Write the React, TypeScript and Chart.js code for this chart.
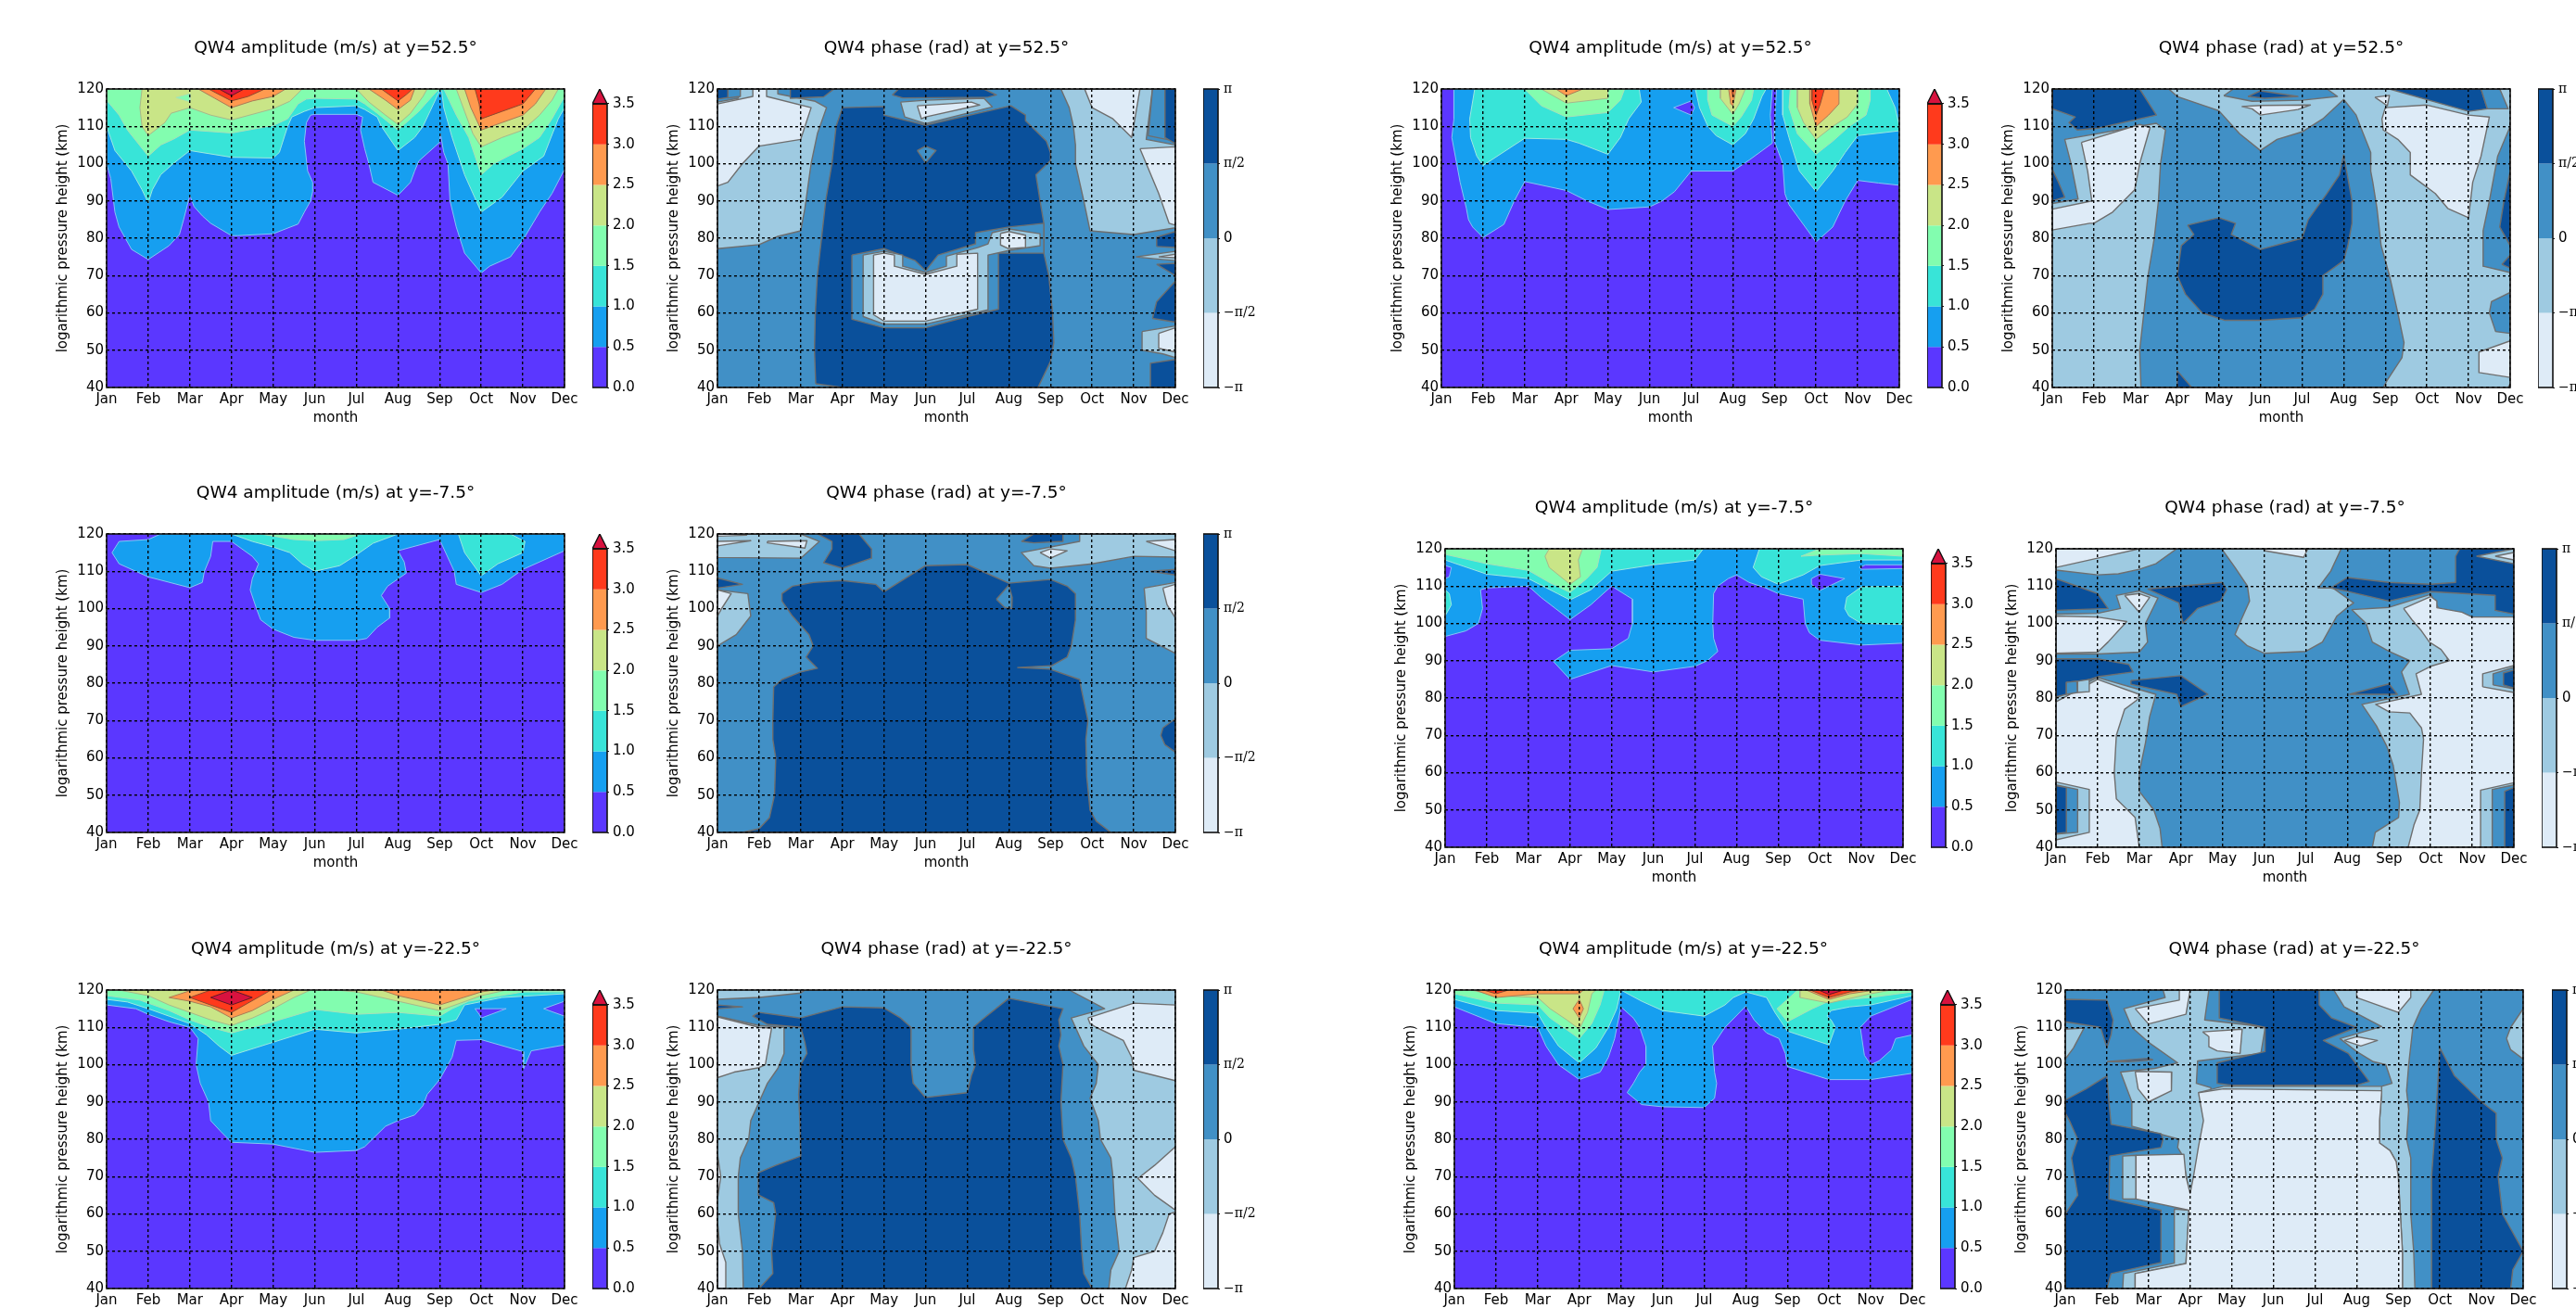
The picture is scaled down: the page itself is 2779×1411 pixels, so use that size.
import React, { useEffect, useRef } from "react";
import { Chart, registerables } from "chart.js";

Chart.register(...registerables);

type Region = [number, number[]];

const months = ["Jan", "Feb", "Mar", "Apr", "May", "Jun", "Jul", "Aug", "Sep", "Oct", "Nov", "Dec"];
const heightTicks = [40, 50, 60, 70, 80, 90, 100, 110, 120];
const ampLevels = [0, 0.5, 1, 1.5, 2, 2.5, 3, 3.5];
const ampLabels = ["0.0", "0.5", "1.0", "1.5", "2.0", "2.5", "3.0", "3.5"];
const phaseLevels = [-Math.PI, -Math.PI / 2, 0, Math.PI / 2, Math.PI];
const phaseLabels = ["−π", "−π/2", "0", "π/2", "π"];
const ampColors = ["#5b37ff", "#169ff0", "#38e4d8", "#82fdaf", "#c9e587", "#ff9a4f", "#ff3a1c", "#d8123f"];
const ampEdges = ["#86c0f4", "#86c4f4", "#9ce8e0", "#a8e0b8", "#a8b88c", "#a87c58", "#8a4a30", "#601828"];
const phaseColors = ["#deebf7", "#9ecae1", "#4190c6", "#0a509b"];
const phaseEdge = "#6e6e6e";
const fullBox = [0, 40, 11, 40, 11, 120, 0, 120];

// Each region: [band index, month,km, month,km, ...] where month 0 = Jan
const ampN52A: Region[] = [
  [0, fullBox],
  [1, [0, 120, 0, 100, 0.1, 96, 0.2, 87, 0.3, 83, 0.6, 77, 1, 74.3, 1.5, 78, 1.75, 81, 1.85, 85, 2, 91.5, 2.1, 88.5, 2.3, 86, 2.5, 84, 3, 80.7, 3.15, 80.7, 4, 81.2, 4.6, 83.8, 4.75, 87, 4.9, 90, 4.95, 92.5, 4.95, 95, 4.83, 98, 4.75, 106, 4.8, 111, 4.9, 113, 5, 113.2, 6, 113.2, 6.15, 112.5, 6.1, 109, 6.2, 104, 6.3, 100, 6.4, 95, 7, 91.5, 7.3, 95, 7.4, 98, 7.5, 100.7, 8, 105.7, 8.02, 108, 8.1, 103, 8.2, 100, 8.25, 90, 8.4, 83, 8.6, 76, 9, 70.7, 9.2, 72.5, 9.7, 75, 10, 79.5, 10.4, 87, 10.7, 92, 11, 98.5, 11, 120]],
  [2, [0, 120, 0, 110, 0.2, 103.5, 0.6, 98, 0.85, 93, 1, 89.5, 1.1, 93, 1.3, 97, 1.6, 100, 2, 103.5, 3, 101.7, 4, 101.5, 4.15, 103, 4.35, 110, 4.45, 112.5, 4.75, 114, 5, 115, 6, 115.5, 6.2, 114.5, 6.5, 112.5, 6.6, 110, 7, 103.5, 7.4, 107, 7.6, 110, 8, 119.5, 8.05, 119.5, 8.1, 115, 8.3, 107, 8.6, 97, 9, 87, 9.5, 91, 10, 98, 10.5, 102, 10.85, 112, 11, 115, 11, 120]],
  [3, [0, 120, 0, 117, 0.3, 113, 0.5, 109, 1, 102, 1.3, 105, 1.6, 106.5, 2, 109, 3, 108.2, 4, 110.2, 4.35, 112, 4.6, 116, 4.8, 117.3, 5, 117.5, 6, 117.3, 6.2, 116, 6.5, 113.5, 7, 109, 7.3, 112, 7.5, 114, 7.9, 119, 8, 120, 8.1, 120, 8.4, 113, 8.7, 107, 9, 97, 9.3, 100, 10, 104, 10.4, 107, 10.7, 112, 11, 118, 11, 120]],
  [4, [0.85, 120, 0.8, 115, 0.85, 110, 1, 107.5, 1.4, 111, 1.55, 113.5, 2, 115, 2.5, 113, 3, 111.7, 4, 114.7, 4.4, 116.7, 4.7, 120]],
  [3, [1.67, 117.7, 2, 118.7, 2, 116.6]],
  [4, [6, 120, 6.3, 116.5, 6.7, 113, 7, 110.5, 7.3, 113.5, 7.6, 118, 7.7, 120]],
  [4, [8.4, 120, 8.6, 114, 8.8, 108, 9, 104.5, 9.5, 107, 10, 109, 10.4, 113, 10.7, 117, 10.85, 120]],
  [5, [8.6, 120, 8.75, 115, 9, 109, 9.5, 111, 10, 113, 10.3, 116, 10.55, 120]],
  [6, [8.85, 120, 8.95, 116, 9, 112, 9.5, 114, 10, 116, 10.15, 118, 10.3, 120]],
  [5, [2.2, 120, 2.6, 117.5, 3, 115, 3.5, 116.8, 4, 118, 4.3, 120]],
  [6, [2.45, 120, 3, 116.8, 3.4, 118, 3.8, 120]],
  [7, [2.7, 120, 3, 118.2, 3.3, 120]],
  [5, [6.3, 120, 6.7, 117, 7, 114.5, 7.3, 117, 7.4, 120]],
  [6, [6.6, 120, 7, 116.8, 7.2, 118.5, 7.35, 120]],
];

const phaseN52A: Region[] = [
  [2, fullBox],
  [3, [2.36, 41, 3, 40, 7.7, 40, 8, 47, 8.08, 52, 8.05, 60, 7.96, 70, 7.84, 76, 7.84, 84, 7.75, 90, 7.65, 97, 8, 100.8, 8, 103, 7.9, 106, 7.4, 111.5, 7.4, 113, 7.05, 115.5, 5, 110.3, 4, 113, 4, 115.3, 3, 115, 2.85, 110, 2.75, 100, 2.6, 90, 2.5, 80, 2.4, 70, 2.35, 60, 2.33, 50]],
  [2, [3.23, 75.5, 4, 77.2, 4.75, 74, 5, 71.3, 5.3, 75.5, 6.2, 78.5, 6.2, 81.5, 7, 83, 7.84, 84, 7.84, 76, 6.75, 76, 6.75, 61, 6, 59, 5, 56, 4, 56, 3.23, 58.3]],
  [1, [3.5, 75.5, 4, 76.5, 4.45, 75.5, 4.45, 72.5, 5, 70.8, 5.5, 72.5, 5.5, 75.2, 6.25, 77.5, 6.5, 78.5, 6.6, 81.5, 7, 82.5, 7.75, 81.2, 7.75, 78, 7, 76.7, 6.5, 75.5, 6.5, 60.8, 5, 57, 4, 57, 3.5, 59]],
  [0, [3.75, 75.5, 4, 76, 4.25, 75.5, 4.25, 72.5, 5, 70.3, 5.75, 72.5, 5.75, 75.7, 6.25, 76, 6.25, 61, 5, 57.8, 4, 57.8, 3.75, 59.5]],
  [0, [6.8, 81.3, 7, 81.8, 7.4, 80.8, 7.4, 77.5, 7, 77.2, 6.8, 78.2]],
  [2, [4.8, 103.5, 5, 104.7, 5.25, 103.5, 5, 100.2]],
  [1, [4.4, 116.5, 5, 117, 6.4, 117.5, 6.6, 115.2, 5, 110.7, 4.5, 112.5]],
  [0, [4.8, 115.5, 5.5, 116, 6.1, 116.5, 6.3, 115.7, 5, 112.5, 4.9, 112]],
  [3, [4.2, 118.4, 4.45, 117.6, 6.5, 117.8, 6.7, 118.4, 6.4, 120, 4.35, 120]],
  [1, [0, 77.2, 1, 78.3, 1.45, 80.5, 2, 82, 2.1, 88, 2.25, 100, 2.4, 108, 2.62, 115, 2.35, 116.7, 1.45, 118.7, 1.45, 120, 0.55, 120, 0.5, 117.5, 0, 116.5]],
  [0, [0, 116, 0.85, 118, 0.85, 120, 1.18, 120, 1.18, 118, 2.25, 115, 2, 106.5, 1, 104.7, 0.6, 100, 0.25, 95, 0, 94]],
  [2, [0.25, 120, 0.55, 120, 0.55, 118, 0.25, 117.6]],
  [3, [0, 120, 0.25, 120, 0.25, 117.7, 0, 117.3]],
  [3, [1.75, 120, 2.8, 120, 2.55, 117.9, 1.75, 117.5]],
  [1, [8.25, 120, 8.45, 115, 8.55, 110, 8.6, 105, 8.6, 100, 8.7, 95, 8.8, 90, 8.95, 82, 10, 81, 11, 82.8, 11, 105, 10.3, 106.5, 10.45, 120]],
  [0, [8.82, 120, 9, 115, 9.5, 112, 9.95, 107, 10.15, 120]],
  [2, [10.45, 120, 10.75, 120, 10.75, 107.5, 11, 106, 10.35, 107.5]],
  [3, [10.75, 120, 11, 120, 11, 105.3, 10.75, 107]],
  [0, [10.15, 104, 11, 104.5, 11, 83.5, 10.85, 84, 10.6, 92, 10.3, 100]],
  [3, [10.4, 40, 10.4, 46.5, 11, 47.5, 11, 40]],
  [1, [10.2, 55, 11, 56.5, 11, 48, 10.7, 49, 10.2, 50]],
  [0, [10.6, 54.5, 11, 56, 11, 49.5, 10.6, 50.5]],
  [3, [10.45, 58.5, 10.55, 63, 11, 68.5, 11, 57.5]],
  [3, [10.55, 73, 11, 73.3, 11, 70]],
  [1, [10.05, 75, 11, 76.5, 11, 74, 10.5, 74.5]],
  [0, [10.6, 75, 11, 75.7, 11, 74.8]],
  [3, [10.55, 77.8, 10.55, 80.3, 11, 81.8, 11, 77.5]],
];

const ampN52B: Region[] = [
  [0, fullBox],
  [1, [0.3, 120, 0.3, 112, 0.25, 107, 0.45, 95, 0.6, 88, 0.65, 85, 0.75, 83, 1, 80.2, 1.5, 83.7, 1.75, 90, 2, 95.2, 3, 92.8, 3.5, 90, 4, 87.7, 5, 88.4, 5.3, 90, 5.6, 92.5, 6, 98, 7, 98, 7.4, 101, 7.95, 105.5, 7.9, 113, 7.95, 120, 8.05, 120, 8, 110, 8, 106, 8.2, 100, 8.25, 92, 8.35, 89, 9, 79, 9.4, 83, 9.7, 90, 10, 95.5, 10.5, 94.8, 11, 94.2, 11, 120]],
  [0, [5.58, 115, 6, 116.8, 6.08, 115, 6, 113]],
  [2, [0.8, 120, 0.68, 112, 0.7, 107, 0.85, 102, 1, 99.5, 2, 106.8, 3, 106.5, 3.3, 105.5, 4, 102.5, 4.3, 107, 4.5, 112, 4.8, 116.5, 4.75, 120]],
  [2, [6.1, 120, 6.2, 115, 6.4, 110, 6.6, 107.5, 7, 105, 7.3, 108, 7.5, 112, 7.7, 118, 7.8, 120]],
  [2, [8.2, 120, 8.2, 113, 8.35, 107, 8.6, 98, 9, 92.5, 9.4, 98, 9.7, 103, 10, 107.5, 11, 108.8, 11, 110, 10.9, 115, 10.7, 120]],
  [3, [2, 120, 2.4, 115.5, 3, 112.5, 4, 113.7, 4.3, 117, 4.4, 120]],
  [3, [6.4, 120, 6.4, 117, 6.5, 113, 7, 110, 7.2, 112.5, 7.45, 117, 7.5, 120]],
  [3, [8.38, 120, 8.35, 115, 8.55, 108, 9, 102.5, 9.4, 106, 9.8, 110, 10.2, 113, 10.3, 117, 10.3, 120]],
  [4, [8.55, 120, 8.55, 115, 8.7, 111, 9, 106.5, 9.4, 110, 9.75, 112.5, 10, 116, 10, 120]],
  [5, [8.85, 120, 8.85, 116, 9, 110, 9.3, 113, 9.55, 116, 9.55, 120]],
  [6, [8.9, 120, 8.9, 117, 9, 113, 9.1, 116, 9.2, 120]],
  [4, [2.4, 120, 3, 116.2, 4, 117.5, 4, 120]],
  [5, [2.75, 120, 3, 118.2, 3.4, 120]],
  [4, [6.7, 120, 6.7, 117.5, 7, 113.2, 7.15, 116, 7.3, 120]],
  [5, [6.9, 120, 6.95, 116, 7, 115.5, 7.08, 120]],
  [6, [6.97, 120, 7, 118, 7.03, 120]],
];

const phaseN52B: Region[] = [
  [1, fullBox],
  [2, [0, 120, 2.8, 120, 3, 118, 4, 114.2, 4.5, 108, 5, 103.5, 5.4, 106.5, 6, 108.5, 6.5, 112, 7, 117.2, 7.3, 113, 7.4, 110, 7.65, 103, 7.65, 98, 7.7, 95, 7.8, 88, 7.9, 78, 8.1, 70, 8.3, 60, 8.45, 52, 8.4, 48, 8.05, 42, 7.95, 40, 2.13, 40, 2.1, 50, 2.15, 55, 2.3, 70, 2.45, 80, 2.55, 90, 2.6, 100, 2.72, 109, 2.5, 110.8, 0.3, 106.5, 0.45, 100, 0.62, 90.5, 0, 89.3]],
  [3, [0, 120, 2.1, 120, 2.5, 113, 1.1, 109.5, 0.6, 109, 0.4, 111, 0.55, 112.5, 0, 114.7]],
  [3, [0, 98.5, 0.15, 95, 0.3, 91, 0, 90]],
  [0, [0.7, 105.7, 2.1, 110.5, 2.35, 109.7, 2.1, 100, 1.98, 93, 1.45, 87, 1, 84, 0.9, 84, 0, 82.2, 0, 87.8, 0.95, 90, 0.85, 98]],
  [2, [4.12, 118.2, 4.35, 120, 6.6, 120, 6.85, 118, 6, 117, 4.8, 116.7]],
  [3, [4.7, 118, 5, 119.5, 5.9, 118, 5.1, 117.5]],
  [0, [4.55, 115.3, 5, 115.6, 6.2, 115.7, 5.9, 114.5, 5, 113, 4.8, 114.7]],
  [3, [3.25, 83.5, 4, 85.5, 4.4, 84, 4.3, 81, 5, 77, 6, 80, 6.15, 85, 6.6, 92, 6.9, 97, 7, 102.3, 7.2, 90, 7.2, 84, 7.1, 78, 7, 74, 6.5, 70, 6.5, 65, 6.3, 61, 6, 58.7, 5, 58, 4.15, 58, 3.6, 60, 3.2, 65, 3, 70, 3.1, 78, 3.4, 81]],
  [3, [3, 44.5, 3.35, 40, 3, 40]],
  [0, [7.75, 117.8, 8.1, 118.3, 8.05, 115.5]],
  [3, [8.05, 120, 10.3, 120, 10.45, 114.7, 10, 114, 8.1, 120]],
  [2, [10.3, 120, 10.75, 120, 10.95, 114.7, 10.45, 114.7]],
  [0, [8, 115, 9, 115.7, 10, 113, 10.5, 112.5, 10.3, 102, 10.1, 95, 10, 85.5, 9.5, 88, 9.2, 92, 8.9, 94.5, 8.6, 97, 8.6, 103, 8.3, 106.5, 7.95, 109, 7.92, 112]],
  [2, [11, 110, 10.7, 102, 10.5, 90, 10.35, 82, 10.35, 72.5, 11, 70.8]],
  [3, [11, 98, 10.85, 90, 10.75, 83, 11, 78]],
  [3, [10.8, 73, 11, 75.5, 11, 72]],
  [2, [11, 65.5, 10.55, 63, 10.5, 60, 10.65, 55, 11, 54.5]],
  [0, [11, 52.5, 10.25, 49.5, 10.25, 44, 11, 42.7]],
  [2, [10.95, 40, 11, 40, 11, 41]],
];

const ampS7A: Region[] = [
  [0, fullBox],
  [1, [0.13, 115, 0.3, 118, 1, 118.5, 1.3, 120, 11, 120, 11, 115.5, 10, 110.5, 9.5, 106.5, 9, 104.3, 8.4, 106.5, 8.35, 110, 8, 118.5, 7, 115.5, 7.15, 112.5, 7.2, 109.5, 6.75, 106, 6.6, 103.5, 6.8, 100, 6.8, 97.5, 6.5, 95, 6.25, 92, 6, 91.5, 5, 91.5, 4.5, 92.3, 4, 94.5, 3.7, 97, 3.6, 100, 3.45, 105, 3.5, 108, 3.65, 112, 3.5, 114, 3, 118, 2.55, 118, 2.5, 114, 2.35, 110, 2.3, 107, 2, 105.6, 1, 108.5, 0.3, 112]],
  [2, [3, 120, 3.5, 118, 4, 116.5, 4.4, 115, 4.7, 112, 5, 110, 5.6, 111.5, 5.95, 114, 6.4, 117.5, 7, 120]],
  [2, [8.45, 120, 8.6, 115, 9, 108.8, 9.4, 112, 10, 115, 10.05, 118, 9.7, 120]],
  [3, [3.7, 120, 4.5, 118.5, 5, 118.2, 5.7, 118.5, 6.1, 120]],
];

const phaseS7A: Region[] = [
  [2, fullBox],
  [3, [0.6, 40, 1, 41, 1.25, 44, 1.37, 50, 1.4, 60, 1.33, 65, 1.33, 70, 1.35, 79, 1.55, 81, 2, 83, 2.4, 84, 2.13, 87, 2.3, 90, 2.2, 93, 1.8, 98, 1.55, 102, 1.55, 104, 1.8, 106, 2.3, 107, 3, 107.5, 3.8, 106.5, 4, 104.5, 5, 111.5, 6, 111.8, 7, 106.8, 8, 107.8, 8.4, 106, 8.6, 104, 8.6, 97, 8.5, 90, 8.4, 87, 8, 84.5, 8, 83.7, 8.7, 81, 8.75, 78, 8.9, 70, 8.85, 65, 8.87, 55, 8.95, 46, 9.1, 43, 9.45, 40]],
  [2, [7.2, 84.2, 8, 84.7, 8, 83.8]],
  [2, [6.7, 102.5, 7, 106.3, 7.08, 103, 7.07, 100, 6.9, 100.3]],
  [3, [2.4, 120, 3.4, 120, 3.7, 116, 3.7, 113.5, 3, 110.8, 2.55, 112.3, 2.75, 116, 2.75, 118]],
  [1, [0, 113.7, 2, 113.5, 2.45, 118, 2, 120, 0, 120]],
  [0, [0, 118, 0.8, 118.2, 0, 116.8]],
  [0, [1.2, 118, 2.15, 118.2, 2.1, 116.2, 1.2, 117.6]],
  [0, [0, 120, 0.7, 119.7, 0, 119.4]],
  [3, [0, 108.2, 0.6, 106.5, 0, 105.5]],
  [1, [0, 90, 0.45, 93, 0.8, 98, 0.73, 104, 0, 105]],
  [0, [0, 98, 0.1, 100, 0.33, 104, 0, 105]],
  [3, [7.3, 118, 7.6, 120, 8.3, 120, 8.3, 118, 7.6, 117.6]],
  [1, [8.7, 120, 11, 120, 11, 113.8, 10, 114, 9, 112, 8, 110.8, 7.6, 111.5, 7.3, 115, 8.7, 118]],
  [0, [7.75, 115, 8, 116, 8.4, 115.5, 8, 113.5]],
  [0, [10.3, 118, 11, 118.5, 11, 115.5]],
  [3, [10.4, 110, 11, 110.5, 11, 109]],
  [1, [10.25, 105.5, 11, 107, 11, 88, 10.3, 92, 10.3, 99]],
  [0, [10.7, 105.5, 11, 106.5, 11, 97.5, 10.8, 101]],
  [3, [11, 70.5, 10.7, 68, 10.65, 66, 10.75, 63.5, 11, 61.5]],
];

const ampS7B: Region[] = [
  [0, fullBox],
  [1, [0, 96.5, 0.5, 98, 0.8, 100, 0.9, 104, 0.85, 109, 1, 109.5, 2, 110, 2.3, 107, 3, 101, 3.5, 105, 4, 110, 4.5, 106.5, 4.5, 100, 4.4, 96, 4, 93.2, 3, 92.8, 2.6, 89.8, 3, 85, 4, 88.7, 5, 87, 6, 88.5, 6.3, 90, 6.55, 92.5, 6.45, 96, 6.43, 100, 6.45, 108, 6.55, 110, 6.8, 112, 7, 113, 7.3, 111, 7.7, 109.5, 8, 108, 8.6, 106.5, 8.65, 100, 8.75, 97.5, 9, 95.5, 10, 94.2, 11, 94.7, 11, 120, 0, 120]],
  [0, [0, 115.5, 0.15, 115, 0.1, 112.5, 0, 112]],
  [0, [8.8, 112, 9, 113.2, 9.6, 112, 9, 108.8, 8.8, 110.5]],
  [0, [9.95, 115, 10.1, 115.7, 11, 115.7, 11, 114.7, 10, 114.5]],
  [2, [0, 117, 1, 113.2, 2, 112, 2.7, 108, 3, 106.3, 3.5, 109, 4, 114, 5, 115.7, 6, 117, 6.2, 120, 0, 120]],
  [2, [7.55, 120, 7.4, 115, 7.6, 112.5, 8, 110.5, 8.6, 113, 9, 115.5, 10, 117, 11, 117, 11, 120]],
  [2, [0, 102, 0.15, 105, 0.1, 108, 0, 109]],
  [2, [9.6, 104, 9.65, 107, 10, 109.8, 11, 110, 11, 99.7, 10, 100, 9.7, 102]],
  [3, [0, 120, 0, 118.5, 1, 116, 2, 114.2, 2.5, 111, 3, 108.3, 3.4, 112, 3.65, 115, 3.75, 120]],
  [3, [8.55, 118, 9, 120, 11, 120, 11, 118, 10, 118.7, 9, 118.3]],
  [4, [2.4, 118, 2.5, 115, 3, 110.5, 3.25, 112.5, 3.2, 117, 3.3, 120, 2.5, 120]],
];

const phaseS7B: Region[] = [
  [2, fullBox],
  [1, [0, 120, 2.9, 120, 2.4, 116, 2, 114.5, 1.5, 113.3, 1, 113, 0, 114.3]],
  [0, [0, 115, 1, 117.5, 2, 120, 0, 120]],
  [1, [3.98, 120, 4.3, 115, 4.6, 110, 4.65, 106, 4.45, 101, 4.3, 97, 4.6, 94, 5, 92, 6, 92.5, 6.4, 95, 6.75, 102, 7, 104.3, 7.15, 105.5, 6.65, 109.5, 6.3, 109.5, 6.6, 114, 6.85, 120]],
  [0, [5, 120, 5, 119.5, 5.95, 117.7, 6.05, 120]],
  [1, [0, 102.5, 1, 102.7, 1.55, 104, 1.45, 107.5, 2, 108.7, 2.45, 106.8, 2.15, 100, 2.2, 95, 2, 92.3, 1, 91.8, 0, 91.8]],
  [0, [0, 102, 1, 101.7, 1.7, 100.5, 1.25, 95, 1, 92.3, 0, 92]],
  [0, [1.65, 107.5, 2, 108, 2.25, 107, 2, 103]],
  [3, [0, 112, 0.5, 110, 1, 108, 1.25, 104, 0, 103.5]],
  [3, [2.2, 109.2, 4, 111, 4.1, 109, 3.95, 106, 3.4, 104, 3.05, 100, 2.95, 105.5]],
  [1, [7.1, 103.7, 8, 104.3, 9, 107.8, 9.4, 100, 9.4, 40, 7.6, 40, 7.67, 44, 7.95, 46, 8.23, 48, 8.25, 52, 8.1, 62, 7.95, 67, 7.7, 72.5, 7.35, 78.3, 8.49, 81, 8.3, 87, 8.5, 90, 8, 92.5, 7.6, 95, 7.45, 100]],
  [0, [8.35, 104, 9, 107.2, 9.15, 106, 9.15, 104.2, 9.75, 103, 10, 101.7, 11, 101.7, 11, 40, 8.46, 40, 8.6, 46, 8.74, 50, 8.78, 60, 8.83, 69, 8.78, 72, 8.5, 76, 8, 76.3, 7.68, 78.3, 8.78, 81, 8.65, 86.5, 9, 88.5, 9.45, 90, 9.25, 93, 8.97, 95, 8.78, 98, 8.55, 101]],
  [3, [6.6, 109.5, 7, 112.3, 8, 111, 9, 110.5, 9.6, 111, 9.6, 118, 9.7, 120, 11, 120, 11, 102.5, 10.55, 103.5, 10.55, 107.5, 9, 108.5, 8, 106, 7, 108.6]],
  [1, [10.1, 118, 11, 120, 11, 116]],
  [0, [10.55, 118, 11, 119, 11, 117]],
  [1, [10.25, 83, 10.25, 86.5, 11, 88.7, 11, 81.5]],
  [2, [10.5, 83.5, 10.5, 86.5, 11, 88.2, 11, 82.5]],
  [3, [10.75, 83.5, 10.75, 86.7, 11, 87.5, 11, 82.7]],
  [1, [10.2, 40, 10.2, 55.3, 11, 57.3, 11, 40]],
  [2, [10.48, 40, 10.48, 55.5, 11, 56.7, 11, 40]],
  [3, [10.78, 40, 10.78, 55, 11, 56, 11, 40]],
  [1, [0, 80, 1, 85.5, 2.4, 81, 2.25, 75, 2.15, 68, 2, 60, 2, 55, 2.35, 50, 2.5, 45, 2.55, 40, 0, 40]],
  [0, [0, 79, 1, 85, 2, 81, 1.95, 79.5, 1.65, 77, 1.45, 70, 1.4, 60, 1.45, 53, 1.9, 48, 2, 40, 0, 40]],
  [1, [0, 42, 0.8, 44, 0.8, 55.5, 0, 57.5]],
  [2, [0, 43.5, 0.52, 44, 0.52, 55.5, 0, 56.7]],
  [3, [0, 43.7, 0.25, 44, 0.25, 56, 0, 56.5]],
  [3, [0, 90.5, 1, 90.5, 1.75, 89, 1.85, 87, 1, 85.7, 0.75, 84.8, 0.25, 84.2, 0.25, 81, 0, 80.3]],
  [2, [0.25, 81, 0.25, 84.2, 0.5, 84.5, 0.52, 81.5]],
  [1, [0.52, 81.5, 0.52, 84.5, 0.8, 85, 0.8, 81.7]],
  [3, [1.8, 84.7, 3, 86, 3.65, 81, 3, 77.7, 2.9, 81, 1.8, 83.7]],
  [3, [7.05, 81, 8, 83.8, 8.2, 81]],
];

const ampS22A: Region[] = [
  [0, fullBox],
  [1, [0, 116, 0.7, 115, 1, 113.5, 1.5, 111.5, 2, 110, 2.2, 107, 2.15, 100, 2.25, 95, 2.45, 90, 2.5, 85, 2.75, 82, 3, 79.2, 4, 78.7, 5, 76.5, 6, 77, 6.2, 78, 6.7, 83.5, 7, 85, 7.4, 86.5, 7.6, 89, 7.7, 92, 8, 96, 8.3, 102, 8.4, 106.5, 9, 106.7, 10, 103.5, 10.02, 99, 10.2, 103.7, 11, 105.3, 11, 120, 0, 120]],
  [0, [8.85, 115, 9.6, 115, 9, 112.5, 8.95, 113.5]],
  [0, [10.5, 115, 11, 117, 11, 113]],
  [2, [0, 117.5, 0.5, 116.8, 1, 115, 1.5, 113, 2, 111, 2.4, 108, 2.7, 105, 3, 102.5, 4, 106, 5, 109.5, 6, 108.5, 7, 109.5, 8, 110.8, 8.4, 112, 8.6, 116, 9.5, 118, 11, 119, 11, 120, 0, 120]],
  [3, [0, 118.5, 0.8, 117.3, 1.5, 114.5, 2, 112, 2.5, 110, 3, 108.5, 3.5, 110, 4, 111.5, 5, 114.8, 6, 113.5, 7, 114, 8, 113, 8.3, 115, 8.7, 117, 10, 119.5, 11, 119.5, 11, 120, 0, 120]],
  [4, [0.3, 120, 1, 118.5, 1.5, 116, 2, 114, 2.5, 112, 3, 110.5, 3.5, 112.5, 4, 115, 4.5, 118, 4.9, 120]],
  [4, [5.5, 120, 6, 119.5, 7, 117, 8, 114.5, 8.5, 116.5, 9, 118.5, 9.6, 120]],
  [5, [1.5, 118, 2, 119.8, 2.3, 120, 4.5, 120, 4, 117.5, 3.5, 114.5, 3, 112.5, 2.5, 115.5, 2, 117]],
  [5, [6.6, 120, 7, 118.5, 8, 116, 9, 119.5, 9.3, 120]],
  [6, [2, 118, 2.5, 120, 3.95, 120, 3, 114]],
  [7, [2.5, 118, 3, 120, 3.5, 118, 3, 116]],
];

const phaseS22A: Region[] = [
  [1, fullBox],
  [2, [0.62, 40, 0.6, 50, 0.5, 60, 0.5, 70, 0.55, 75, 0.75, 80, 0.8, 85, 1, 90, 1.2, 95, 1.45, 99, 1.6, 103, 1.6, 110, 1, 110.5, 0, 113, 0, 117.5, 1, 118, 2, 119.2, 2.1, 120, 8.45, 120, 9.3, 115, 8.5, 112.5, 8.8, 105, 9.15, 100, 9.1, 95, 8.95, 91, 9.15, 85, 9.2, 80, 9.45, 75, 9.5, 70, 9.55, 60, 9.65, 50, 9.45, 45, 9.4, 40]],
  [3, [1, 40, 1.33, 44, 1.3, 50, 1.4, 60, 1.35, 63, 1, 65, 0.98, 71, 1.4, 73, 2, 75.5, 1.98, 85, 1.95, 92, 2, 100, 2.15, 103, 2.1, 106, 2, 110, 1.2, 110.8, 0.85, 113, 1, 114, 2, 112.5, 3, 115.5, 4, 115.2, 4.4, 112.5, 4.65, 110, 4.65, 100, 4.7, 95, 5, 91.2, 6, 92.5, 6.1, 97, 6.2, 100, 6.15, 104, 6.15, 110, 6.35, 112, 7, 117.8, 8.3, 115, 8.2, 112, 8.25, 108, 8.2, 105, 8.3, 100, 8.25, 90, 8.3, 80, 8.5, 75, 8.6, 70, 8.7, 60, 8.75, 50, 8.8, 44, 9, 40]],
  [3, [0, 116, 0.6, 115.5, 0, 115]],
  [0, [0, 112.8, 1, 110, 1.3, 109.8, 1.15, 100, 1, 99.2, 0.4, 98, 0, 96.5]],
  [0, [8.9, 112.5, 10, 116.5, 11, 116, 11, 95.7, 10, 98.5, 9.95, 102, 9.75, 106.5, 9.1, 110, 8.95, 111]],
  [0, [11, 78, 10.5, 73, 10.1, 69.5, 10.5, 65, 11, 61]],
  [0, [9.8, 40, 9.95, 45, 10, 48.3, 10.5, 50, 10.7, 55, 10.85, 60, 11, 60.5, 11, 40]],
  [0, [0, 40, 0.2, 40, 0.2, 47, 0.05, 52, 0, 58]],
  [0, [0, 76, 0.08, 70, 0, 64]],
];

const ampS22B: Region[] = [
  [0, fullBox],
  [1, [0, 115.5, 1, 111, 2, 110, 2.2, 105, 2.5, 100, 3, 96, 3.5, 98, 3.7, 102, 3.85, 107, 4, 115.5, 4.3, 112.5, 4.45, 110, 4.6, 105, 4.6, 100, 4.45, 98, 4.3, 95, 4.15, 92.5, 4.5, 89.3, 5, 88.7, 6, 88.5, 6.25, 91, 6.3, 95, 6.25, 98, 6.2, 105, 6.5, 110, 7, 115.7, 7.2, 112, 7.5, 108.5, 7.8, 107, 7.95, 103, 8, 99.5, 9, 96, 10, 96, 11, 97.7, 11, 120, 0, 120]],
  [0, [9.85, 102.5, 9.75, 110, 10, 113, 11, 117.5, 11, 108, 10.6, 107, 10.5, 104, 10.2, 101, 10, 100]],
  [2, [0, 117.5, 1, 114.5, 2, 113.8, 2.2, 110, 2.5, 105, 3, 100.5, 3.4, 104.5, 3.7, 110, 3.9, 115, 4, 120, 4.5, 117, 5, 114.5, 6, 113, 6.5, 116, 6.7, 118, 7, 119.5, 7.5, 118, 7.7, 114, 8, 109, 9, 105.3, 9.15, 110, 9.05, 112, 8.95, 113, 9.05, 114.5, 9.5, 115.5, 10, 116, 11, 118.5, 11, 120, 0, 120]],
  [3, [0, 119, 1, 116.5, 2, 116, 2.3, 112.5, 3, 107, 3.3, 111, 3.5, 116, 3.6, 120, 0, 120]],
  [3, [8.25, 120, 7.75, 115, 8, 111.5, 8.6, 115, 9, 117, 10, 118, 11, 119.5, 11, 120]],
  [4, [0.4, 120, 1, 118.5, 2, 118, 2.3, 115, 2.7, 112, 3, 109.5, 3.2, 114, 3.3, 119, 3.4, 120]],
  [4, [8.3, 120, 8.3, 118, 9, 116.5, 10, 119, 10.5, 120]],
  [5, [0.5, 120, 1, 118, 2, 119, 3, 119, 3.1, 120]],
  [5, [2.85, 115, 3, 117.5, 3.1, 115, 3, 112.5]],
  [5, [8.45, 120, 9, 117.5, 9.5, 119, 10.1, 120]],
  [6, [0.7, 120, 1, 119, 1.3, 120]],
  [6, [8.55, 120, 9, 118, 9.5, 119.5, 9.8, 120]],
  [7, [8.75, 120, 9, 118.8, 9.35, 120]],
];

const phaseS22B: Region[] = [
  [2, fullBox],
  [1, [2.35, 120, 2.4, 118, 1.41, 115, 1.6, 110, 2, 106, 2.7, 100.5, 2.15, 99, 1.33, 98, 1.6, 90, 1.6, 83.5, 2.73, 80, 2.7, 77.8, 2.8, 76, 3, 65, 3.5, 65, 3.5, 93.8, 3.15, 95, 3.18, 101, 4.7, 103, 4.8, 109.8, 4.5, 110.5, 3.35, 112, 3.45, 120]],
  [1, [6.45, 120, 6.7, 115.5, 7.6, 110.2, 6.6, 107, 7, 103.5, 7.4, 100.8, 7.7, 100, 7.85, 95, 7.6, 94.2, 7.6, 92.5, 7.55, 85, 7.55, 79, 7.8, 77, 7.95, 74, 8, 70, 8.05, 60, 8.1, 50, 8.1, 40, 8.4, 40, 8.37, 50, 8.3, 60, 8.3, 70, 8.3, 75, 8.2, 80, 8.25, 88, 8.2, 93, 8.25, 100, 8.35, 110, 8.55, 115, 8.85, 120]],
  [1, [1.38, 40, 1.4, 44, 2.62, 46.8, 2.62, 61.3, 2.97, 61, 2.9, 46.7, 1.68, 44, 1.68, 40]],
  [1, [1.38, 64, 1.38, 75.5, 1.7, 75.7, 1.7, 64]],
  [1, [3.2, 92.5, 3.8, 94.2, 7.6, 94.2, 7.6, 92.5]],
  [0, [1.68, 40, 1.68, 44, 2.9, 46.7, 2.97, 61, 1.7, 64, 1.7, 75.7, 2.85, 76, 2.9, 70, 3, 65.5, 3.08, 70, 3.2, 78, 3.32, 85, 3.2, 92.5, 3.8, 93.5, 7.6, 93, 7.6, 92.5, 7.55, 85, 7.55, 79, 7.8, 77, 7.95, 74, 8, 70, 8.05, 60, 8.1, 50, 8.1, 40]],
  [0, [1.68, 98.2, 2.56, 98, 2.55, 93, 2, 90, 1.75, 93.5]],
  [0, [1.68, 115, 2.74, 117.3, 2.74, 120, 3, 120, 2.9, 113.5, 2, 110.9]],
  [0, [3.3, 108.8, 4.25, 109.5, 4.2, 103, 3.65, 103.7, 3.45, 104.8, 3.45, 107.5]],
  [0, [7, 120, 8.3, 120, 8.3, 118, 8, 114, 7, 118]],
  [0, [6.7, 106.5, 7, 107.5, 7.5, 106.5, 7.1, 105]],
  [3, [0, 40, 1, 40, 1.1, 44, 2.3, 47, 2.3, 61, 1.05, 64, 1.07, 75.5, 2.3, 77.8, 2.35, 80, 2.3, 81.5, 1.1, 84, 1.05, 90, 1, 97, 0.5, 93.5, 0, 90.5]],
  [2, [0, 60, 0.3, 65, 0.15, 75, 0.3, 80, 0.1, 85, 0, 87]],
  [3, [3.7, 120, 6.1, 120, 6.1, 116, 6.4, 112.5, 7, 110, 6.2, 106.5, 6.8, 103, 7, 100, 7.3, 95.5, 7, 94.5, 4, 94.5, 3.65, 95, 3.65, 100.5, 4.8, 103.5, 4.8, 110, 3.7, 112.5]],
  [3, [8.8, 40, 8.8, 70, 8.9, 85, 8.95, 95, 9, 104.5, 9.35, 97, 10, 90, 10.35, 87, 10.35, 80, 10.5, 75, 10.4, 70, 10.5, 60, 10.9, 52, 11, 50, 10.75, 45, 10.7, 40]],
  [1, [11, 115, 10.7, 110, 10.6, 107, 10.7, 104, 11, 101.5]],
  [3, [0, 117.5, 1, 117.3, 1.15, 112, 1.1, 108, 1, 104.5, 0.85, 110, 0, 111.5]],
  [1, [0, 109.5, 0.45, 109.8, 0.2, 104.5, 0, 101.5]],
  [3, [1, 100.8, 2, 101.7, 2.1, 101.3, 1.5, 100.8]],
];

const colA = { amp: 115, cbA: 639, phase: 774, cbP: 1298 };
const panels = [
  { title: "QW4 amplitude (m/s) at y=52.5°", kind: "amp", x: colA.amp, y: 96, cb: colA.cbA, data: ampN52A },
  { title: "QW4 phase (rad) at y=52.5°", kind: "phase", x: colA.phase, y: 96, cb: colA.cbP, data: phaseN52A },
  { title: "QW4 amplitude (m/s) at y=52.5°", kind: "amp", x: 1555, y: 96, cb: 2079, data: ampN52B },
  { title: "QW4 phase (rad) at y=52.5°", kind: "phase", x: 2214, y: 96, cb: 2738, data: phaseN52B },
  { title: "QW4 amplitude (m/s) at y=-7.5°", kind: "amp", x: colA.amp, y: 576, cb: colA.cbA, data: ampS7A },
  { title: "QW4 phase (rad) at y=-7.5°", kind: "phase", x: colA.phase, y: 576, cb: colA.cbP, data: phaseS7A },
  { title: "QW4 amplitude (m/s) at y=-7.5°", kind: "amp", x: 1559, y: 592, cb: 2083, data: ampS7B },
  { title: "QW4 phase (rad) at y=-7.5°", kind: "phase", x: 2218, y: 592, cb: 2742, data: phaseS7B },
  { title: "QW4 amplitude (m/s) at y=-22.5°", kind: "amp", x: colA.amp, y: 1068, cb: colA.cbA, data: ampS22A, noXTitle: true },
  { title: "QW4 phase (rad) at y=-22.5°", kind: "phase", x: colA.phase, y: 1068, cb: colA.cbP, data: phaseS22A, noXTitle: true },
  { title: "QW4 amplitude (m/s) at y=-22.5°", kind: "amp", x: 1569, y: 1068, cb: 2093, data: ampS22B, noXTitle: true },
  { title: "QW4 phase (rad) at y=-22.5°", kind: "phase", x: 2228, y: 1068, cb: 2753, data: phaseS22B, noXTitle: true },
];

const PLOT_W = 494;
const PLOT_H = 322;
const PAD_L = 60;
const PAD_R = 60;
const PAD_T = 70;
const PAD_B = 50;
const SANS = "'DejaVu Sans'";

const framePlugin = {
  id: "frame",
  afterDraw(chart: any, _a: any, opts: any) {
    const { left, right, bottom } = chart.chartArea;
    const top = opts.topValue != null ? chart.scales.y.getPixelForValue(opts.topValue) : chart.chartArea.top;
    const c = chart.ctx;
    c.save();
    c.strokeStyle = "#111";
    c.lineWidth = 1.6;
    c.strokeRect(left, top, right - left, bottom - top);
    c.restore();
  },
};

function toPoints(flat: number[]) {
  const pts: { x: number; y: number }[] = [];
  for (let i = 0; i < flat.length; i += 2) pts.push({ x: flat[i], y: flat[i + 1] });
  pts.push({ x: flat[0], y: flat[1] });
  return pts;
}

function regionDatasets(regions: Region[], fills: string[], edges: (b: number) => string, width: number) {
  return regions.map(([band, flat], i) => ({
    data: toPoints(flat),
    showLine: true,
    fill: "shape",
    backgroundColor: fills[band],
    borderColor: i === 0 ? fills[band] : edges(band),
    borderWidth: i === 0 ? 0 : width,
    borderJoinStyle: "round",
    pointRadius: 0,
    tension: 0,
    order: regions.length - i,
  }));
}

function resetPad(s: any) {
  s.paddingLeft = 0;
  s.paddingRight = 0;
  s.paddingTop = 0;
  s.paddingBottom = 0;
}

function Plot({ p }: { p: any }) {
  const ref = useRef<HTMLCanvasElement>(null);
  useEffect(() => {
    const isAmp = p.kind === "amp";
    const chart = new Chart(ref.current!, {
      type: "scatter",
      data: {
        datasets: regionDatasets(p.data, isAmp ? ampColors : phaseColors, isAmp ? (b) => ampEdges[b] : () => phaseEdge, isAmp ? 1 : 1.4) as any,
      },
      plugins: [framePlugin],
      options: {
        animation: false,
        responsive: false,
        devicePixelRatio: 1,
        layout: { padding: { left: 0, right: PAD_R, top: 0, bottom: 0 } },
        events: [],
        plugins: {
          legend: { display: false },
          tooltip: { enabled: false },
          title: {
            display: true,
            text: p.title,
            fullSize: false,
            color: "#000",
            font: { family: SANS, size: 18.5, weight: "normal", lineHeight: 1.2 },
            padding: { top: 15, bottom: 32.8 },
          },
        },
        scales: {
          x: {
            type: "linear",
            min: 0,
            max: 11,
            afterFit: (s: any) => {
              resetPad(s);
              s.height = PAD_B;
            },
            ticks: {
              stepSize: 1,
              autoSkip: false,
              maxRotation: 0,
              color: "#000",
              padding: 4,
              font: { family: SANS, size: 15 },
              callback: (v: any) => months[v],
            },
            grid: { z: 1, color: "#000", lineWidth: 1.4, drawTicks: false },
            border: { display: false, dash: [3, 3] },
            title: {
              display: !p.noXTitle,
              text: "month",
              color: "#000",
              font: { family: SANS, size: 15, lineHeight: 1.2 },
              padding: { top: 0, bottom: 8 },
            },
          },
          y: {
            type: "linear",
            min: 40,
            max: 120,
            afterFit: (s: any) => {
              resetPad(s);
              s.width = PAD_L;
            },
            afterBuildTicks: (s: any) => {
              s.ticks = heightTicks.map((value) => ({ value }));
            },
            ticks: {
              autoSkip: false,
              color: "#000",
              padding: 3,
              font: { family: SANS, size: 15 },
            },
            grid: { z: 1, color: "#000", lineWidth: 1.4, drawTicks: false },
            border: { display: false, dash: [3, 3] },
            title: {
              display: true,
              text: "logarithmic pressure height (km)",
              color: "#000",
              font: { family: SANS, size: 15, lineHeight: 1.2 },
              padding: { top: 4, bottom: 0 },
            },
          },
        },
      } as any,
    });
    return () => chart.destroy();
  }, [p]);
  return (
    <canvas
      ref={ref}
      width={PAD_L + PLOT_W + PAD_R}
      height={PAD_T + PLOT_H + PAD_B}
      style={{ position: "absolute", left: p.x - PAD_L, top: p.y - PAD_T, display: "block" }}
    />
  );
}

const CB_W = 16;
const CB_PAD = 12;
const CB_LABEL_W = 60;

function ColorBar({ p }: { p: any }) {
  const ref = useRef<HTMLCanvasElement>(null);
  useEffect(() => {
    const isAmp = p.kind === "amp";
    const levels = isAmp ? ampLevels : phaseLevels;
    const labels = isAmp ? ampLabels : phaseLabels;
    const fills = isAmp ? ampColors : phaseColors;
    const regions: Region[] = [];
    for (let i = 0; i + 1 < levels.length; i++) {
      regions.push([i, [0, levels[i], 1, levels[i], 1, levels[i + 1], 0, levels[i + 1]]]);
    }
    const top = isAmp ? 3.683 : Math.PI;
    if (isAmp) regions.push([7, [0, 3.5, 1, 3.5, 0.5, top]]);
    const sets = regions.map(([band, flat], i) => ({
      data: toPoints(flat),
      showLine: true,
      fill: "shape",
      backgroundColor: fills[band],
      borderColor: isAmp && i === regions.length - 1 ? "#111" : fills[band],
      borderWidth: isAmp && i === regions.length - 1 ? 1.4 : 0,
      pointRadius: 0,
      tension: 0,
      order: regions.length - i,
    }));
    const chart = new Chart(ref.current!, {
      type: "scatter",
      data: { datasets: sets as any },
      plugins: [framePlugin],
      options: {
        animation: false,
        responsive: false,
        devicePixelRatio: 1,
        events: [],
        layout: { padding: { left: 0, right: 0, top: CB_PAD, bottom: CB_PAD } },
        plugins: {
          legend: { display: false },
          tooltip: { enabled: false },
          title: { display: false },
          frame: { topValue: isAmp ? 3.5 : null },
        },
        scales: {
          x: { type: "linear", min: 0, max: 1, display: false },
          y: {
            type: "linear",
            position: "right",
            min: isAmp ? 0 : -Math.PI,
            max: top,
            afterFit: (s: any) => {
              resetPad(s);
              s.width = CB_LABEL_W;
            },
            afterBuildTicks: (s: any) => {
              s.ticks = levels.map((value) => ({ value }));
            },
            ticks: {
              autoSkip: false,
              color: "#000",
              padding: 4,
              font: (ctx: any) =>
                isAmp || ctx.index === 2
                  ? { family: SANS, size: 15 }
                  : { family: "'DejaVu Serif'", size: 14 },
              callback: (_v: any, i: number) => labels[i],
            },
            grid: { drawOnChartArea: false, drawTicks: true, tickLength: 2, color: "#111", lineWidth: 1 },
            border: { display: false },
          },
        },
      } as any,
    });
    return () => chart.destroy();
  }, [p]);
  return (
    <canvas
      ref={ref}
      width={CB_W + CB_LABEL_W}
      height={PLOT_H + 2 * CB_PAD}
      style={{ position: "absolute", left: p.cb, top: p.y - CB_PAD, display: "block" }}
    />
  );
}

export default function App() {
  return (
    <div style={{ position: "fixed", left: 0, top: 0, width: 2779, height: 1411, overflow: "hidden", background: "#fff", filter: "blur(0.6px)" }}>
      {panels.map((p, i) => (
        <React.Fragment key={i}>
          <Plot p={p} />
          <ColorBar p={p} />
        </React.Fragment>
      ))}
    </div>
  );
}
